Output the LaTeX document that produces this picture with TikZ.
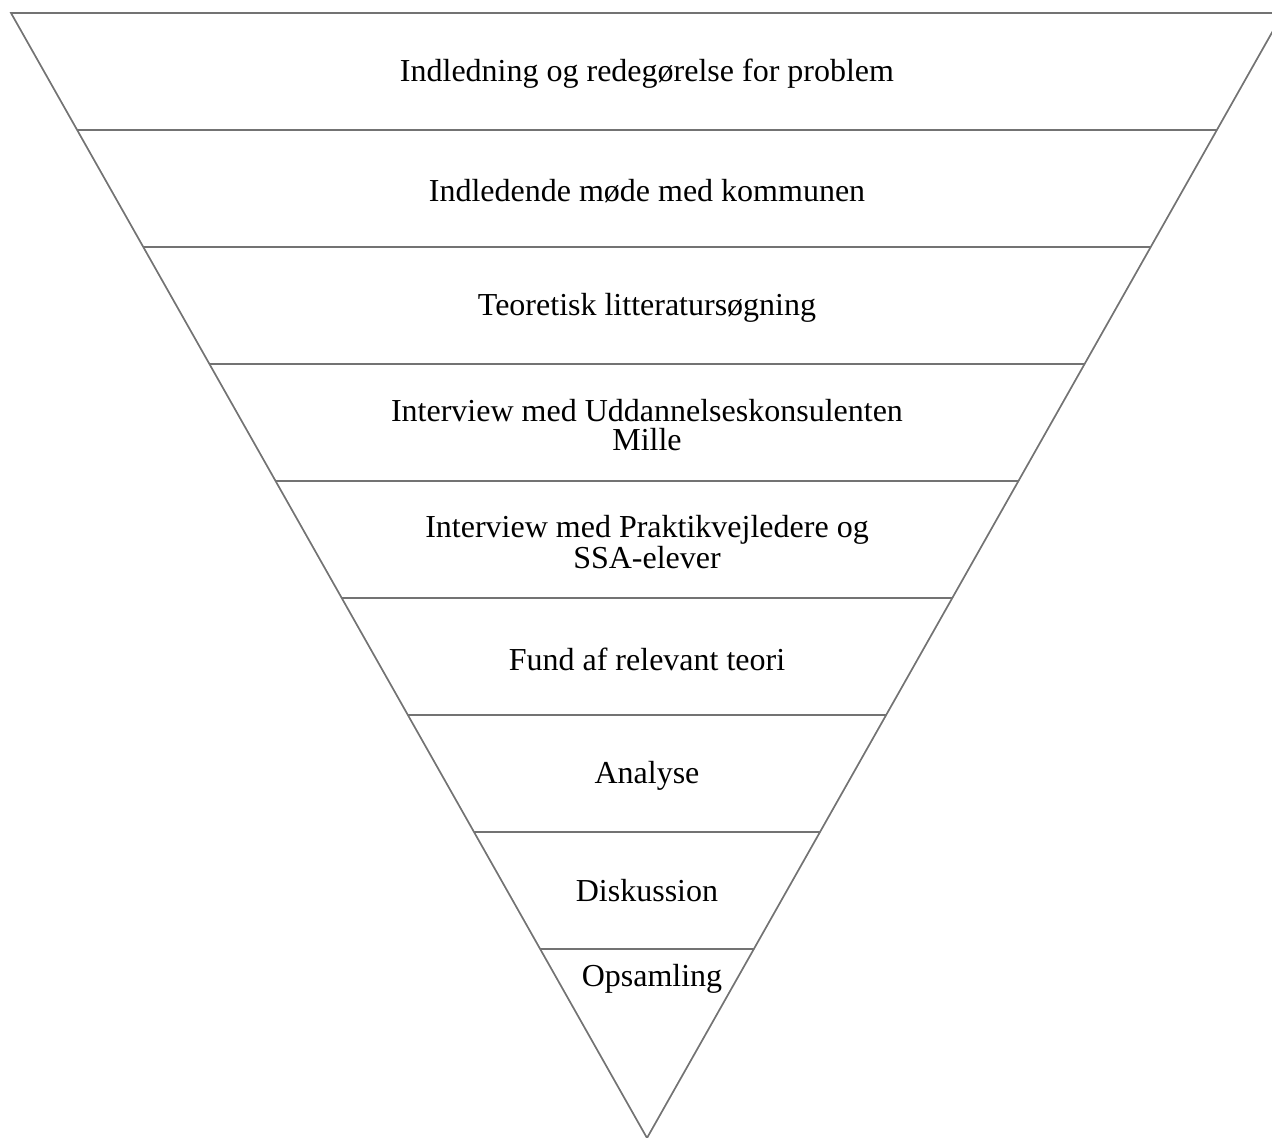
\documentclass[tikz,border=0pt]{standalone}
\usepackage{fontspec}
\setmainfont{Liberation Serif}
\usepackage{tikz}
\usetikzlibrary{calc}

\begin{document}
\begin{tikzpicture}[
      x=0.5pt, y=-0.5pt,
      every node/.style={font=\fontsize{16}{14.5}\selectfont, align=center, inner sep=0pt},
      funnel/.style={draw=black!55, line width=0.8pt, line join=miter},
      shade/.style={draw=black!18, line width=0.8pt}
    ]
      \useasboundingbox (0,0) rectangle (1272,1138);
      \clip (0,0) rectangle (1272,1138);
      \coordinate (tl) at (11,13);
      \coordinate (tr) at (1283,13);
      \coordinate (apex) at (647,1138);
      % shadow
      \draw[shade, shift={(1.5,1.5)}] (tl) -- (apex) -- (tr);
      \foreach \k in {1,...,8}
          \draw[shade, shift={(0,1.5)}] ($(tl)!0.104*\k!(apex)$) -- ($(tr)!0.104*\k!(apex)$);
      % funnel
      \draw[funnel] (tr) -- (tl) -- (apex) -- cycle;
      \foreach \k in {1,...,8}
          \draw[funnel] ($(tl)!0.104*\k!(apex)$) -- ($(tr)!0.104*\k!(apex)$);
      % steps
      \node (intro) at (647,74) {Indledning og redegørelse for problem};
      \node (meet) at (647,191) {Indledende møde med kommunen};
      \node (lit) at (647,308) {Teoretisk litteratursøgning};
      \node (mille) at (647,425) {Interview med Uddannelseskonsulenten\\Mille};
      \node (prak) at (647,542) {Interview med Praktikvejledere og\\SSA-elever};
      \node (teori) at (647,659) {Fund af relevant teori};
      \node (ana) at (647,776) {Analyse};
      \node (disk) at (647,891) {Diskussion};
      \node (opsam) at (652,979) {Opsamling};
    \end{tikzpicture}
\end{document}
